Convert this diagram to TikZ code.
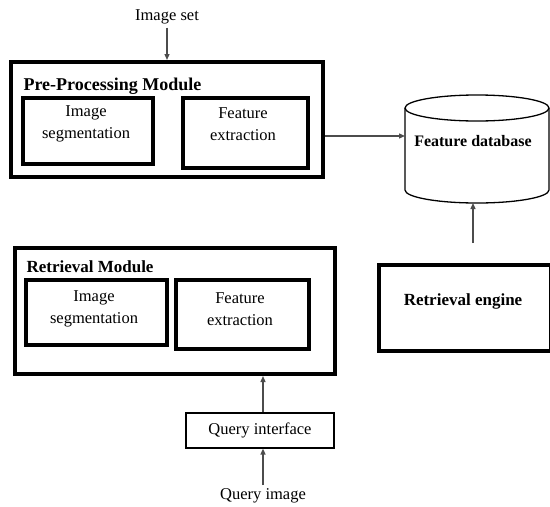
\documentclass[tikz,border=0pt]{standalone}
\usepackage{fontspec}
\setmainfont{Liberation Serif}
\usetikzlibrary{arrows.meta}
\begin{document}
\begin{tikzpicture}[x=1pt,y=-1pt,
  thickbox/.style={draw=black, line width=4pt, fill=white},
  thinbox/.style={draw=black, line width=1.6pt, fill=white},
  inlabel/.style={font=\fontsize{16.5}{22}\selectfont, align=center},
  boldlabel/.style={font=\fontsize{17}{18}\selectfont\bfseries},
  conn/.style={draw=black!70, line width=1.3pt, -{Triangle[length=6pt,width=5pt]}}
]
\useasboundingbox (0,0) rectangle (550,507);
% top module
\node[thickbox, minimum width=312pt, minimum height=115pt, anchor=north west] (pre) at (9,60) {};
\node[boldlabel, font=\fontsize{18}{19}\selectfont\bfseries, anchor=west] (pretitle) at (20,86) {Pre-Processing Module};
\node[thickbox, minimum width=130pt, minimum height=66pt, anchor=north west] (preseg) at (21,96) {};
\node[inlabel] (presegt) at (86,124) {Image\\segmentation};
\node[thickbox, minimum width=125pt, minimum height=70pt, anchor=north west] (prefeat) at (181,96) {};
\node[inlabel] (prefeatt) at (243,124) {Feature\\extraction};
\node[inlabel] (imgset) at (167,17) {Image set};
\draw[conn] (imgset.south) -- (pre.north -| imgset.south);

% database cylinder
\coordinate (dbin) at (405,136);
\coordinate (dbbot) at (473,203);
\draw[line width=1.3pt, fill=white] (405,108) -- (405,190) arc[start angle=180, end angle=0, x radius=72, y radius=13] -- (549,108);
\draw[line width=1.3pt, fill=white] (477,108) ellipse[x radius=72, y radius=13];
\node[boldlabel, font=\fontsize{16}{17}\selectfont\bfseries] (dbt) at (473,141) {Feature database};
\draw[conn] (pre.east |- dbin) -- (dbin);

% retrieval engine
\node[thickbox, minimum width=172pt, minimum height=86pt, anchor=north west] (eng) at (377,263) {};
\node[boldlabel] (engt) at (463,301) {Retrieval engine};
\coordinate (engtop) at (473,243);
\draw[conn] (engtop) -- (dbbot);

% retrieval module
\node[thickbox, minimum width=320pt, minimum height=126pt, anchor=north west] (ret) at (13,246) {};
\node[boldlabel, anchor=west] (rettitle) at (23,267) {Retrieval Module};
\node[thickbox, minimum width=141pt, minimum height=65pt, anchor=north west] (retseg) at (24,278) {};
\node[inlabel] (retsegt) at (94,309) {Image\\segmentation};
\node[thickbox, minimum width=133pt, minimum height=69pt, anchor=north west] (retfeat) at (174,278) {};
\node[inlabel] (retfeatt) at (240,309) {Feature\\extraction};

% query
\node[thinbox, minimum width=148pt, minimum height=35pt, anchor=north west] (qi) at (185,412) {};
\node[inlabel] (qit) at (260,430) {Query interface};
\node[inlabel] (qimg) at (263,496) {Query image};
\draw[conn] (qi.north -| 263,0) -- (ret.south -| 263,0);
\draw[conn] (qimg.north -| 263,0) -- (qi.south -| 263,0);
\end{tikzpicture}
\end{document}
